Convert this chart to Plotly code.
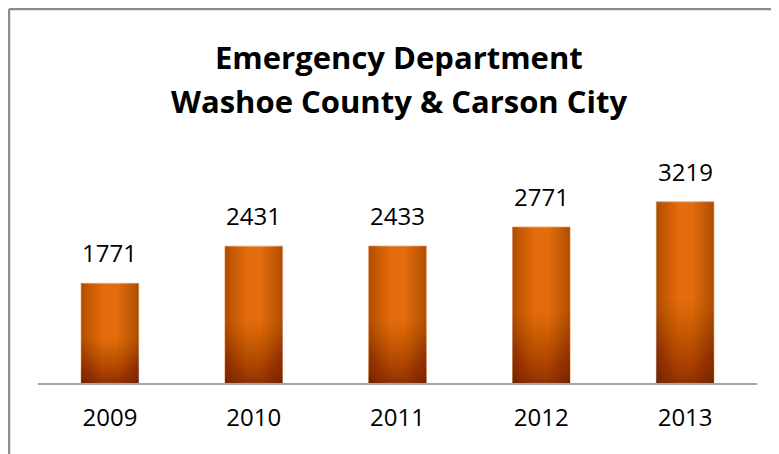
import plotly.graph_objects as go

years = ["2009", "2010", "2011", "2012", "2013"]
visits = [1771, 2431, 2433, 2771, 3219]
title_line1 = "Emergency Department"
title_line2 = "Washoe County & Carson City"

W = 0.4  # bar width (category units)
FONT = "Open Sans"

fig = go.Figure()

# base orange bar
fig.add_trace(go.Bar(x=years, y=visits, width=W,
                     marker=dict(color="#E36C0C", line=dict(color="rgba(236,170,120,0.9)", width=1)),
                     hoverinfo="skip", showlegend=False))

# vertical darkening toward the bottom
NV = 40
for k in range(NV):
    h = 0.45 * (1 - k / NV) ** 1.8
    fig.add_trace(go.Bar(x=years, y=[v * h for v in visits], width=W,
                         marker=dict(color="rgba(40,15,0,0.016)", line=dict(width=0)),
                         hoverinfo="skip", showlegend=False))

# horizontal darkening toward the sides
NH = 16
for k in range(NH):
    e = 0.36 * (1 - k / NH) ** 1.4
    for off in (-W / 2, W / 2 - W * e):
        fig.add_trace(go.Bar(x=years, y=visits, width=W * e, offset=off,
                             marker=dict(color="rgba(40,15,0,0.019)", line=dict(width=0)),
                             hoverinfo="skip", showlegend=False))

# data labels (category axis: annotations use the category serial number)
for i, v in enumerate(visits):
    fig.add_annotation(x=i, y=v, text=str(v), showarrow=False, yanchor="bottom", yshift=12,
                       font=dict(family=FONT, size=24, color="#000000"))

# title
fig.add_annotation(xref="paper", yref="paper", x=(399 - 38) / 719, y=(383 - 57) / 197, text=title_line1,
                   showarrow=False, xanchor="center", yanchor="middle",
                   font=dict(family=FONT, size=31, color="#000000", weight="bold"))
fig.add_annotation(xref="paper", yref="paper", x=(399 - 38) / 719, y=(383 - 101) / 197, text=title_line2,
                   showarrow=False, xanchor="center", yanchor="middle",
                   font=dict(family=FONT, size=31, color="#000000", weight="bold"))

# outer frame (left and top edges)
fig.add_shape(type="line", xref="paper", yref="paper", x0=(1 - 30) / 719, x1=(1 - 30) / 719,
              y0=(375 - 1) / 197, y1=(375 - 470) / 197, line=dict(color="#8C8C8C", width=2.5))
fig.add_shape(type="line", xref="paper", yref="paper", x0=(1 - 30) / 719, x1=(800 - 30) / 719,
              y0=(375 - 1) / 197, y1=(375 - 1) / 197, line=dict(color="#8C8C8C", width=2.5))

fig.update_layout(
    width=779, height=454,
    margin=dict(l=30, r=30, t=178, b=79),
    barmode="overlay",
    plot_bgcolor="white", paper_bgcolor="white",
    showlegend=False,
    font=dict(family=FONT, size=24, color="#000000"),
)
fig.update_xaxes(type="category", range=[-0.5, 4.5], showline=True, linecolor="#A6A6A6", linewidth=1.5,
                 ticks="outside", ticklen=12, tickcolor="rgba(0,0,0,0)",
                 tickfont=dict(family=FONT, size=24, color="#000000"),
                 showgrid=False, fixedrange=True)
fig.update_yaxes(range=[0, 3500], visible=False, showgrid=False, zeroline=False, fixedrange=True)

fig.write_html("out.html")
